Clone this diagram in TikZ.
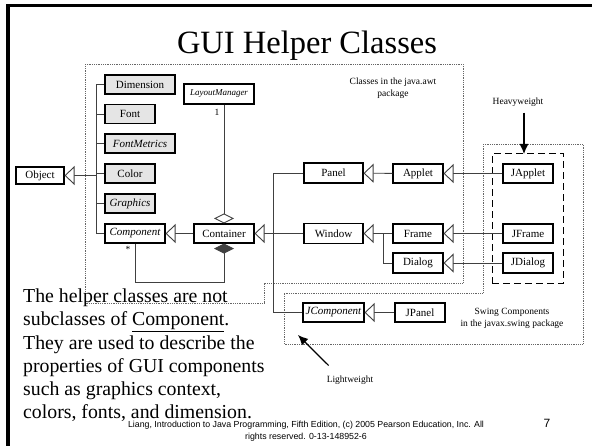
\documentclass[tikz,border=0pt]{standalone}
\usepackage{fontspec}
\setmainfont{Liberation Serif}
\newfontfamily\footfont{Liberation Sans}
\usetikzlibrary{arrows.meta,fit}

\begin{document}
\begin{tikzpicture}[x=1pt, y=-1pt,
	cls/.style = {draw, line width=1.1pt, inner sep=0pt, minimum height=19pt, font=\fontsize{11}{13}\selectfont},
	helper/.style = {cls, fill=black!10},
	ital/.style = {font=\fontsize{11}{13}\selectfont\itshape},
	small/.style = {inner sep=0pt, font=\fontsize{9.5}{12}\selectfont},
	link/.style = {draw=black!75, line width=0.9pt},
	inherit/.style = {link, -{Triangle[open, fill=white, length=10pt, width=19pt]}},
	aggr/.style = {link, -{Diamond[open, fill=white, length=10pt, width=20pt]}},
	compos/.style = {link, -{Diamond[length=10pt, width=20pt]}},
	pkg/.style = {draw=black!60, line width=0.8pt, densely dotted},
	pointer/.style = {line width=1.2pt, -{Latex[length=10pt, width=9pt]}}]

\useasboundingbox (0,0) rectangle (592,446);
\draw[line width=3.5pt] (8,446) -- (8,5.5) -- (592,5.5);

\node[anchor=base, inner sep=0pt, font=\fontsize{32.5}{36}\selectfont] (title) at (307,54) {GUI Helper Classes};

% package areas
\draw[pkg] (85,64) -- (463,64) -- (463,283) -- (264,283) -- (264,303) -- (85,303) -- cycle;
\draw[pkg] (483,144) -- (583,144) -- (583,344) -- (284,344) -- (284,293) -- (483,293) -- cycle;
\node[small, align=center] (awt) at (393,88) {Classes in the java.awt\\package};
\node[small, align=center] (swing) at (512,318.5) {Swing Components\\in the javax.swing package};

% helper classes
\node[helper, minimum width=70pt] (dim) at (140,84.5) {Dimension};
\node[helper, minimum width=50pt] (font) at (130,114) {Font};
\node[helper, ital, minimum width=70pt] (metr) at (140,143.5) {FontMetrics};
\node[helper, minimum width=50pt] (col) at (130,173.5) {Color};
\node[helper, ital, minimum width=50pt] (gfx) at (130,203.5) {Graphics};
\node[cls, ital, minimum width=60pt] (comp) at (135,233.5) {Component};
\node[cls, minimum width=48pt, minimum height=17pt] (obj) at (40,175.5) {Object};
\node[cls, minimum width=70pt, minimum height=20pt, font=\fontsize{9}{11}\selectfont\itshape] (lm) at (219,94) {LayoutManager};
\node[cls, minimum width=60pt] (cont) at (224,233.5) {Container};

% awt classes
\node[cls, minimum width=59pt, minimum height=20pt] (panel) at (333.5,173) {Panel};
\node[cls, minimum width=59pt, minimum height=20pt] (win) at (333.5,233.5) {Window};
\node[cls, minimum width=50pt] (applet) at (418,173.5) {Applet};
\node[cls, minimum width=50pt] (frame) at (418,233.5) {Frame};
\node[cls, minimum width=50pt, minimum height=20pt] (dialog) at (418,263) {Dialog};

% swing classes
\node[cls, minimum width=50pt] (japplet) at (528,173.5) {JApplet};
\node[cls, minimum width=50pt] (jframe) at (528,233.5) {JFrame};
\node[cls, minimum width=50pt, minimum height=20pt] (jdialog) at (528,263) {JDialog};
\node[cls, ital, minimum width=61pt] (jcomp) at (333.5,312.5) {JComponent};
\node[cls, minimum width=50pt] (jpanel) at (420,312.5) {JPanel};
\node[draw, line width=1.2pt, dash pattern=on 7pt off 4pt, inner sep=10pt, fit=(japplet)(jdialog)] (heavy) {};

% object tree
\coordinate (bus) at (96,0);
\draw[link] (dim.west) -- (dim.west -| bus) |- (comp.west);
\foreach \n in {font,metr,col,gfx}
	\draw[link] (\n.west) -- (\n.west -| bus);
\draw[inherit] (obj.east -| bus) -- (obj.east);
\draw[inherit] (cont) -- (comp);
\draw[aggr] (cont.north |- lm.south) -- (cont.north);
\draw[compos] (comp.south) -- ++(0,39) -| (cont.south);
\node[small] (one) at (217,112) {1};
\node[small] (many) at (128,249) {*};

% container tree
\draw[link] (panel.west) -- ++(-30,0) |- (jcomp.west);
\draw[inherit] (win) -- (cont);
\draw[inherit] (applet) -- (panel);
\draw[inherit] (frame) -- (win);
\draw[link] (dialog.west) -- ++(-9,0) |- (frame.west);
\draw[inherit] (japplet) -- (applet);
\draw[inherit] (jframe) -- (frame);
\draw[inherit] (jdialog) -- (dialog);
\draw[inherit] (jpanel) -- (jcomp);

% weight labels
\node[small] (hw) at (518,102) {Heavyweight};
\coordinate (hwtip) at (524,154);
\draw[pointer] (hwtip |- hw.south) ++(0,6) -- (hwtip);
\node[small] (lw) at (350,380) {Lightweight};
\coordinate (lwtip) at (298,335);
\draw[pointer] ([shift={(2pt,10pt)}]lw.north west) -- (lwtip);

% note
\foreach \ln [count=\i] in {The helper classes are not, subclasses of \underline{Component}., They are used to describe the, properties of GUI components, {such as graphics context,}, {colors, fonts, and dimension.}}
	\node[anchor=base west, inner sep=0pt, font=\fontsize{19.8}{23}\selectfont] (note\i) at (23,279.5+23.2*\i) {\ln};

% footer
\node[anchor=base, inner sep=0pt, font=\footfont\fontsize{8.8}{11}\selectfont] (foot1) at (306,428) {Liang, Introduction to Java Programming, Fifth Edition, (c) 2005 Pearson Education, Inc. All};
\node[anchor=base, inner sep=0pt, font=\footfont\fontsize{8.8}{11}\selectfont] (foot2) at (306,439) {rights reserved. 0-13-148952-6};
\node[anchor=base, inner sep=0pt, font=\footfont\fontsize{12}{14}\selectfont] (pnum) at (547,427) {7};
\end{tikzpicture}
\end{document}
